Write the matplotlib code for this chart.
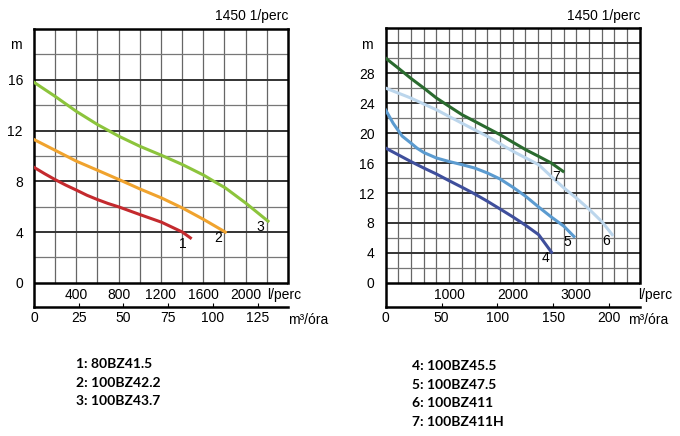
import numpy as np
import matplotlib.pyplot as plt

plt.rcParams['font.family'] = ['Liberation Sans', 'DejaVu Sans']

# bal oldali diagram (l/perc, m)
q1 = [0, 100, 198, 300, 402, 500, 600, 700, 802, 1000, 1204, 1402, 1478]
h1 = [9.1, 8.6, 8.14, 7.7, 7.3, 6.9, 6.56, 6.25, 5.98, 5.38, 4.78, 4.0, 3.54]
q2 = [0, 198, 402, 600, 802, 1000, 1204, 1402, 1604, 1808]
h2 = [11.29, 10.45, 9.58, 8.87, 8.14, 7.4, 6.69, 5.9, 4.99, 4.0]
q3 = [0, 198, 402, 600, 802, 1000, 1204, 1402, 1604, 1700, 1808, 2006, 2211]
h3 = [15.8, 14.7, 13.5, 12.47, 11.55, 10.76, 10.05, 9.32, 8.48, 8.0, 7.48, 6.25, 4.86]

# jobb oldali diagram
q4 = [0, 199, 398, 602, 801, 1000, 1204, 1403, 1602, 1801, 2005, 2204, 2408, 2610]
h4 = [18.0, 17.1, 16.2, 15.33, 14.53, 13.64, 12.76, 11.87, 10.9, 9.87, 8.8, 7.69, 6.44, 4.1]
q5 = [0, 120, 260, 398, 500, 602, 801, 1000, 1204, 1403, 1602, 1801, 2005, 2204, 2408, 2607, 2806, 2963]
h5 = [23.1, 21.3, 19.6, 18.67, 17.95, 17.4, 16.67, 16.2, 15.78, 15.33, 14.67, 13.87, 12.76, 11.56, 10.13, 8.8, 7.56, 6.2]
q6 = [0, 398, 801, 1204, 1602, 2005, 2408, 2607, 2806, 3005, 3209, 3408, 3565]
h6 = [26.0, 24.67, 23.1, 21.3, 19.56, 17.56, 15.78, 14.2, 12.67, 11.3, 9.78, 8.13, 6.44]
q7 = [0, 199, 398, 602, 801, 1000, 1204, 1403, 1602, 1801, 2005, 2204, 2408, 2607, 2790]
h7 = [30.0, 28.67, 27.3, 26.0, 24.67, 23.56, 22.44, 21.56, 20.67, 19.78, 18.76, 17.78, 16.89, 16.0, 14.9]

left_lpm_ticks = [400, 800, 1200, 1600, 2000]
left_m3_ticks = [0, 25, 50, 75, 100, 125]
left_h_ticks = [0, 4, 8, 12, 16]
right_lpm_ticks = [1000, 2000, 3000]
right_m3_ticks = [0, 50, 100, 150, 200]
right_h_ticks = [0, 4, 8, 12, 16, 20, 24, 28]

left_names = ['1: 80BZ41.5', '2: 100BZ42.2', '3: 100BZ43.7']
right_names = ['4: 100BZ45.5', '5: 100BZ47.5', '6: 100BZ411', '7: 100BZ411H']

FS = 10


def setup(ax, xmax, ymax, ybot, xstep, lpm_ticks, m3_ticks, m3_factor, h_ticks,
          lpm_unit_x, m3_unit_x):
    ax.set_xlim(0, xmax)
    ax.set_ylim(ybot, ymax)
    # rács csak y=0 fölött
    for x in np.arange(xstep, xmax, xstep):
        ax.plot([x, x], [0, ymax], color='#666666', lw=0.9, zorder=1)
    for y in np.arange(2, ymax, 2):
        thick = (y % 4 == 0)
        ax.plot([0, xmax], [y, y], color='#333333' if thick else '#777777',
                lw=1.4 if thick else 0.9, zorder=1)
    ax.plot([0, xmax], [0, 0], color='black', lw=1.8, zorder=2)
    for s in ['left', 'top', 'right', 'bottom']:
        ax.spines[s].set_linewidth(1.8)
    ax.spines['right'].set_bounds(0, ymax)
    ax.set_yticks(h_ticks)
    ax.tick_params(axis='y', length=0, labelsize=FS, pad=8)
    ax.text(-0.05, ymax - 1.3 * (ymax / 20), 'm', transform=ax.get_yaxis_transform(),
            ha='right', va='center', fontsize=FS)
    ax.set_xticks([v * m3_factor for v in m3_ticks])
    ax.set_xticklabels([str(v) for v in m3_ticks])
    ax.tick_params(axis='x', length=3, direction='in', labelsize=FS, pad=3)
    for v in lpm_ticks:
        ax.text(v, ybot / 2, str(v), ha='center', va='center', fontsize=FS)
    ax.text(lpm_unit_x, ybot / 2, 'l/perc', ha='left', va='center', fontsize=FS)
    ax.text(m3_unit_x, -0.02, 'm³/óra', transform=ax.transAxes, ha='left', va='top',
            fontsize=FS)
    ax.text(1.0, 1.02, '1450 1/perc', transform=ax.transAxes, ha='right', va='bottom',
            fontsize=FS)


fig = plt.figure(figsize=(6.8, 4.36), dpi=100)

ax1 = fig.add_axes([0.05, 0.296, 0.3735, 0.6375])
setup(ax1, 2400, 20, -1.9, 200, left_lpm_ticks, left_m3_ticks, 16.9, left_h_ticks,
      2200, 1.0)
ax1.plot(q1, h1, color='#c42a2e', lw=2.2, zorder=3)
ax1.plot(q2, h2, color='#f0a32e', lw=2.2, zorder=3)
ax1.plot(q3, h3, color='#8cc43c', lw=2.2, zorder=3)
for lbl, (x, y) in zip(['1', '2', '3'], [(q1[-1], h1[-1]), (q2[-1], h2[-1]), (q3[-1], h3[-1])]):
    ax1.text(x - 70, y - 0.5, lbl, ha='center', va='center', fontsize=FS, zorder=4)

ax2 = fig.add_axes([0.567, 0.296, 0.374, 0.6395])
setup(ax2, 4000, 34, -3.2, 200, right_lpm_ticks, right_m3_ticks, 17.6, right_h_ticks,
      3980, 0.953)
ax2.plot(q4, h4, color='#3f4f9c', lw=2.2, zorder=3)
ax2.plot(q5, h5, color='#5b9bd0', lw=2.2, zorder=3)
ax2.plot(q6, h6, color='#bcd6ec', lw=2.2, zorder=3)
ax2.plot(q7, h7, color='#2a6a2e', lw=2.2, zorder=3)
for lbl, (x, y) in zip(['4', '5', '6', '7'],
                       [(q4[-1], h4[-1]), (q5[-1], h5[-1]), (q6[-1], h6[-1]), (q7[-1], h7[-1])]):
    ax2.text(x - 100, y - 0.8, lbl, ha='center', va='center', fontsize=FS, zorder=4)

for i, name in enumerate(left_names):
    fig.text(0.112, 1 - (364 + 18.5 * i) / 436, name, fontsize=10, fontweight='bold',
             family=['Lato', 'DejaVu Sans'], va='center')
for i, name in enumerate(right_names):
    fig.text(0.606, 1 - (366 + 18.5 * i) / 436, name, fontsize=10, fontweight='bold',
             family=['Lato', 'DejaVu Sans'], va='center')

fig.savefig('out.png', dpi=100)
